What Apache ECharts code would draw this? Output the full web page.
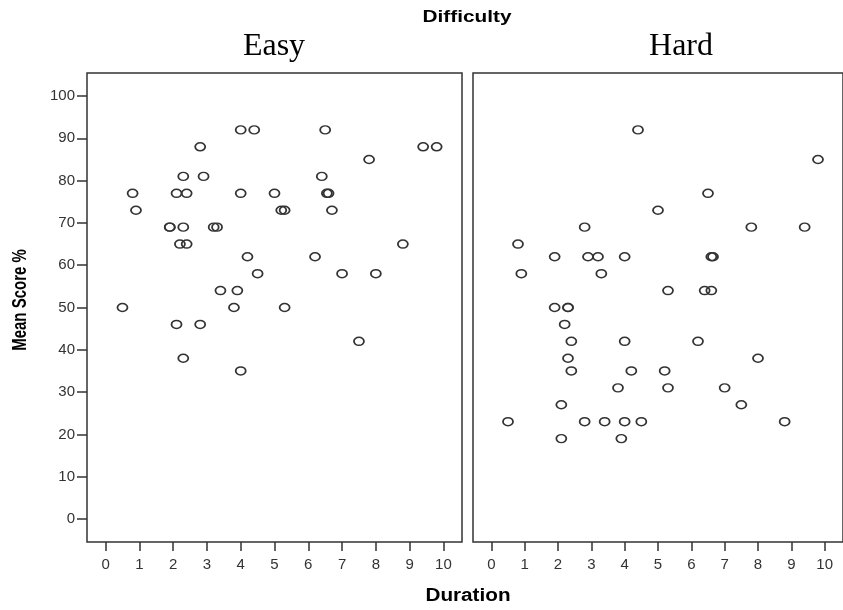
<!DOCTYPE html>
<html>
<head>
<meta charset="utf-8">
<script src="https://cdn.jsdelivr.net/npm/echarts@6/dist/echarts.min.js"></script>
<style>
  html, body { margin: 0; padding: 0; background: #fff; }
  #chart { width: 843px; height: 610px; }
</style>
</head>
<body>
<div id="chart"></div>
<script>
// Panel names
const panels = ['Easy', 'Hard'];

// Easy: duration and mean score for each case
const easyDuration = [4.0, 4.4, 6.5, 2.8, 9.4, 9.8, 7.8, 2.3, 2.9, 6.4,
  0.8, 2.1, 2.4, 4.0, 5.0, 6.55, 6.6, 0.9, 5.2, 5.3,
  6.7, 1.9, 1.9, 2.3, 3.2, 3.3, 2.2, 2.4, 8.8, 4.2,
  6.2, 4.5, 7.0, 8.0, 3.4, 3.9, 0.5, 3.8, 5.3, 2.1,
  2.8, 7.5, 2.3, 4.0];
const easyScore = [92, 92, 92, 88, 88, 88, 85, 81, 81, 81,
  77, 77, 77, 77, 77, 77, 77, 73, 73, 73,
  73, 69, 69, 69, 69, 69, 65, 65, 65, 62,
  62, 58, 58, 58, 54, 54, 50, 50, 50, 46,
  46, 42, 38, 35];

// Hard: duration and mean score for each case
const hardDuration = [4.4, 9.8, 6.5, 5.0, 2.8, 7.8, 9.4, 0.8, 1.9, 2.9,
  3.2, 4.0, 6.6, 6.65, 0.9, 3.3, 5.3, 6.4, 6.6, 1.9,
  2.3, 2.3, 2.2, 2.4, 4.0, 6.2, 2.3, 8.0, 2.4, 4.2,
  5.2, 3.8, 5.3, 7.0, 2.1, 7.5, 0.5, 2.8, 3.4, 4.0,
  4.5, 8.8, 2.1, 3.9];
const hardScore = [92, 85, 77, 73, 69, 69, 69, 65, 62, 62,
  62, 62, 62, 62, 58, 58, 54, 54, 54, 50,
  50, 50, 46, 42, 42, 42, 38, 38, 35, 35,
  35, 31, 31, 31, 27, 27, 23, 23, 23, 23,
  23, 23, 19, 19];

// Tick labels
const xTicks = [0, 1, 2, 3, 4, 5, 6, 7, 8, 9, 10];
const yTicks = [0, 10, 20, 30, 40, 50, 60, 70, 80, 90, 100];

const ink = '#333';
const sans = '"Liberation Sans", Arial, sans-serif';

const zip = (xs, ys) => xs.map((x, i) => [x, ys[i]]);

const gridBase = { top: 73, width: 375, height: 469, show: true,
  borderColor: ink, borderWidth: 1.5, backgroundColor: 'transparent' };

function xAxisFor(idx) {
  return {
    type: 'value', gridIndex: idx, min: -0.55, max: 10.55, position: 'bottom',
    splitLine: { show: false },
    axisLine: { show: false, onZero: false },
    axisTick: { show: true, inside: false, length: 9, customValues: xTicks,
      lineStyle: { color: ink, width: 1.5 } },
    axisLabel: { show: true, customValues: xTicks, margin: 15,
      color: ink, fontFamily: sans, fontSize: 15 }
  };
}

function yAxisFor(idx, labelled) {
  return {
    type: 'value', gridIndex: idx, min: -5.45, max: 105.45, position: 'left',
    splitLine: { show: false },
    axisLine: { show: false, onZero: false },
    axisTick: { show: labelled, inside: false, length: 10, customValues: yTicks,
      lineStyle: { color: ink, width: 1.5 } },
    axisLabel: { show: labelled, customValues: yTicks, margin: 12,
      color: ink, fontFamily: sans, fontSize: 15 }
  };
}

function scatterFor(idx, data) {
  return {
    type: 'scatter', xAxisIndex: idx, yAxisIndex: idx, data: data,
    symbol: 'circle', symbolSize: [10, 8],
    itemStyle: { color: 'rgba(255,255,255,0)', borderColor: ink, borderWidth: 1.6, opacity: 1 },
    emphasis: { disabled: true },
    animation: false
  };
}

const chart = echarts.init(document.getElementById('chart'), null, { renderer: 'canvas' });
chart.setOption({
  animation: false,
  backgroundColor: '#fff',
  grid: [
    Object.assign({ left: 87 }, gridBase),
    Object.assign({ left: 473 }, gridBase)
  ],
  xAxis: [xAxisFor(0), xAxisFor(1)],
  yAxis: [yAxisFor(0, true), yAxisFor(1, false)],
  series: [
    scatterFor(0, zip(easyDuration, easyScore)),
    scatterFor(1, zip(hardDuration, hardScore))
  ],
  graphic: [
    { type: 'text', x: 467, y: 18, scaleX: 1.3, style: { text: 'Difficulty', fill: '#000',
      font: 'bold 16px ' + sans, textAlign: 'center', textVerticalAlign: 'middle' } },
    { type: 'text', x: 274, y: 47, style: { text: panels[0], fill: '#000',
      font: '32px "Liberation Serif", "Times New Roman", serif', textAlign: 'center', textVerticalAlign: 'middle' } },
    { type: 'text', x: 681, y: 47, style: { text: panels[1], fill: '#000',
      font: '32px "Liberation Serif", "Times New Roman", serif', textAlign: 'center', textVerticalAlign: 'middle' } },
    { type: 'text', x: 468, y: 596, scaleX: 1.15, style: { text: 'Duration', fill: '#000',
      font: 'bold 18px ' + sans, textAlign: 'center', textVerticalAlign: 'middle' } },
    { type: 'text', x: 21, y: 300, rotation: Math.PI / 2, scaleY: 1.3, style: { text: 'Mean Score %', fill: '#000',
      font: 'bold 15px ' + sans, textAlign: 'center', textVerticalAlign: 'middle' } }
  ]
});
</script>
</body>
</html>
